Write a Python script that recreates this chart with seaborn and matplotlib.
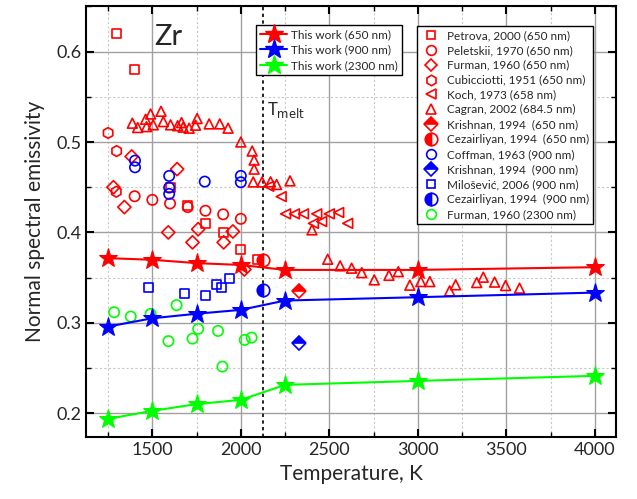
import numpy as np
import pandas as pd
import seaborn as sns
import matplotlib
matplotlib.use("Agg")
import matplotlib.pyplot as plt
from matplotlib.lines import Line2D
from matplotlib.ticker import MultipleLocator

# This work (stars + lines)
work_T = [1250, 1500, 1750, 2000, 2250, 3000, 4000]
work_650 = [0.3715, 0.3697, 0.366, 0.364, 0.3585, 0.3585, 0.3615]
work_900 = [0.2958, 0.305, 0.310, 0.3143, 0.3246, 0.3283, 0.3334]
work_2300 = [0.1937, 0.2026, 0.210, 0.2147, 0.2313, 0.2357, 0.2413]

# Literature data
petrova_T = [1300, 1400, 1600, 1700, 1800, 1900, 2000, 2095]
petrova_e = [0.620, 0.580, 0.450, 0.430, 0.410, 0.400, 0.381, 0.370]

peletskii_T = [1400, 1500, 1600, 1700, 1800, 1900, 2000]
peletskii_e = [0.440, 0.436, 0.432, 0.428, 0.424, 0.420, 0.415]

furman650_T = [1280, 1342, 1383, 1590, 1640, 1727, 1759, 1903, 1955, 2020]
furman650_e = [0.450, 0.428, 0.484, 0.400, 0.470, 0.389, 0.4035, 0.389, 0.401, 0.359]

cubicciotti_T = [1250, 1298, 1296]
cubicciotti_e = [0.510, 0.490, 0.445]

koch_T = [2158, 2228, 2253, 2303, 2354, 2410, 2429, 2457, 2500, 2553, 2604]
koch_e = [0.451, 0.4396, 0.4205, 0.4205, 0.4205, 0.410, 0.4205, 0.412, 0.4205, 0.422, 0.410]

cagran_T = [1387, 1417, 1462, 1467, 1490, 1505, 1549, 1562, 1603, 1643, 1665, 1674,
            1708, 1744, 1753, 1821, 1881, 1928, 2000, 2064, 2075, 2075, 2070, 2120,
            2168, 2202, 2278, 2402, 2491, 2561, 2626, 2683, 2754, 2837, 2890, 2955,
            3017, 3068, 3180, 3214, 3333, 3370, 3434, 3496, 3575]
cagran_e = [0.5208, 0.516, 0.5252, 0.517, 0.531, 0.519, 0.534, 0.5226, 0.519, 0.518,
            0.5215, 0.5164, 0.5153, 0.5186, 0.526, 0.520, 0.520, 0.5153, 0.500, 0.490,
            0.480, 0.470, 0.4558, 0.4558, 0.456, 0.453, 0.457, 0.4028, 0.3703, 0.363,
            0.3604, 0.3555, 0.3475, 0.3525, 0.3566, 0.3416, 0.3456, 0.3456, 0.3353,
            0.342, 0.3445, 0.3504, 0.345, 0.3412, 0.3383]

krishnan650_T = [2330]
krishnan650_e = [0.335]
cez650_T = [2125]
cez650_e = [0.370]

coffman_T = [1402, 1402, 1595, 1595, 1595, 1796, 2000, 2000]
coffman_e = [0.4794, 0.472, 0.4625, 0.4496, 0.4426, 0.4562, 0.4625, 0.4555]

krishnan900_T = [2330]
krishnan900_e = [0.278]

milosevic_T = [1477, 1684, 1798, 1862, 1890, 1937]
milosevic_e = [0.3394, 0.332, 0.330, 0.3427, 0.339, 0.349]

cez900_T = [2125]
cez900_e = [0.336]

furman2300_T = [1284, 1378, 1490, 1637, 1591, 1727, 1759, 1871, 1896, 2022, 2061]
furman2300_e = [0.3117, 0.3069, 0.3098, 0.3195, 0.2797, 0.2825, 0.2933, 0.2910, 0.2515, 0.2811, 0.2836]

T_melt = 2128

RED, BLUE, GREEN = "#ff0000", "#0000ff", "#00ff00"

sns.set_style("ticks")
plt.rcParams["font.family"] = ["Lato", "DejaVu Sans"]

fig = plt.figure(figsize=(6.37, 4.99), dpi=100)
ax = fig.add_axes([0.135, 0.124, 0.832, 0.864])

# grid
ax.xaxis.set_major_locator(MultipleLocator(500))
ax.xaxis.set_minor_locator(MultipleLocator(250))
ax.yaxis.set_major_locator(MultipleLocator(0.1))
ax.yaxis.set_minor_locator(MultipleLocator(0.05))
ax.grid(which="major", color="#a0a0a0", lw=1.0, ls="-", zorder=0)
ax.grid(which="minor", color="#c8c8c8", lw=0.8, ls=(0, (2, 2)), zorder=0)
ax.set_axisbelow(True)

# open-marker literature sets
open_sets = [
    ("Petrova, 2000 (650 nm)", petrova_T, petrova_e, "s", RED, 42),
    ("Peletskii, 1970 (650 nm)", peletskii_T, peletskii_e, "o", RED, 55),
    ("Furman, 1960 (650 nm)", furman650_T, furman650_e, "D", RED, 45),
    ("Cubicciotti, 1951 (650 nm)", cubicciotti_T, cubicciotti_e, "h", RED, 60),
    ("Koch, 1973 (658 nm)", koch_T, koch_e, "<", RED, 50),
    ("Cagran, 2002 (684.5 nm)", cagran_T, cagran_e, "^", RED, 50),
    ("Coffman, 1963 (900 nm)", coffman_T, coffman_e, "o", BLUE, 55),
    ("Milošević, 2006 (900 nm)", milosevic_T, milosevic_e, "s", BLUE, 42),
    ("Furman, 1960 (2300 nm)", furman2300_T, furman2300_e, "o", GREEN, 55),
]
for label, T, e, m, c, s in open_sets:
    df = pd.DataFrame({"T": T, "e": e})
    sns.scatterplot(data=df, x="T", y="e", marker=m, s=s, facecolors="none",
                    edgecolor=c, linewidth=1.2, ax=ax, zorder=3)

# half-filled markers
half_sets = [
    (krishnan650_T, krishnan650_e, "D", RED, "top", 7),
    (cez650_T, cez650_e, "o", RED, "left", 9),
    (krishnan900_T, krishnan900_e, "D", BLUE, "top", 7),
    (cez900_T, cez900_e, "o", BLUE, "left", 9),
]
for T, e, m, c, fs, ms in half_sets:
    ax.plot(T, e, ls="none", marker=m, color=c, mfc=c, mec=c, mfcalt="white",
            fillstyle=fs, ms=ms, mew=1.2, zorder=4)

# this work
for vals, c in [(work_650, RED), (work_900, BLUE), (work_2300, GREEN)]:
    df = pd.DataFrame({"T": work_T, "e": vals})
    sns.lineplot(data=df, x="T", y="e", color=c, lw=1.5, marker="*", ms=14,
                 mec=c, mfc=c, ax=ax, zorder=5)

ax.axvline(T_melt, color="black", ls=(0, (2, 2)), lw=1.2, zorder=2)
ax.text(T_melt + 22, 0.535, r"T$_{\mathrm{melt}}$", fontsize=12, va="center")
ax.text(1590, 0.616, "Zr", fontsize=21, ha="center", va="center")

ax.set_xlim(1125, 4120)
ax.set_ylim(0.1735, 0.6505)
ax.set_xticks([1500, 2000, 2500, 3000, 3500, 4000])
ax.yaxis.set_major_formatter(matplotlib.ticker.FormatStrFormatter("%.1f"))
ax.set_xlabel("Temperature, K", fontsize=15, labelpad=4)
ax.set_ylabel("Normal spectral emissivity", fontsize=15, labelpad=8)
ax.tick_params(which="both", direction="in", top=True, right=True, labelsize=13,
               color="black")
ax.tick_params(which="major", length=6, width=1.5)
ax.tick_params(which="minor", length=3.5, width=1.0)
for sp in ax.spines.values():
    sp.set_linewidth(1.5)
    sp.set_color("black")

# legends
h_work = [Line2D([], [], color=c, lw=1.5, marker="*", ms=14, label=l)
          for c, l in [(RED, "This work (650 nm)"), (BLUE, "This work (900 nm)"),
                       (GREEN, "This work (2300 nm)")]]
leg1 = ax.legend(handles=h_work, loc="upper left", bbox_to_anchor=(0.321, 0.956),
                 borderaxespad=0, fontsize=8.5, frameon=True, fancybox=False,
                 edgecolor="black", framealpha=1, handlelength=2.3,
                 handletextpad=0.3, labelspacing=0.38, borderpad=0.35)
leg1.get_frame().set_linewidth(1.0)
ax.add_artist(leg1)

def mk(m, c, ms, label, fs="full"):
    if fs == "full":
        return Line2D([], [], ls="none", marker=m, mfc="none", mec=c, ms=ms,
                      mew=1.2, label=label)
    return Line2D([], [], ls="none", marker=m, color=c, mfc=c, mec=c,
                  mfcalt="white", fillstyle=fs, ms=ms, mew=1.2, label=label)

h_lit = [
    mk("s", RED, 6, "Petrova, 2000 (650 nm)"),
    mk("o", RED, 7, "Peletskii, 1970 (650 nm)"),
    mk("D", RED, 6.5, "Furman, 1960 (650 nm)"),
    mk("h", RED, 7.5, "Cubicciotti, 1951 (650 nm)"),
    mk("<", RED, 7, "Koch, 1973 (658 nm)"),
    mk("^", RED, 7, "Cagran, 2002 (684.5 nm)"),
    mk("D", RED, 7, "Krishnan, 1994  (650 nm)", "top"),
    mk("o", RED, 9, "Cezairliyan, 1994  (650 nm)", "left"),
    mk("o", BLUE, 7, "Coffman, 1963 (900 nm)"),
    mk("D", BLUE, 7, "Krishnan, 1994  (900 nm)", "top"),
    mk("s", BLUE, 6, "Milošević, 2006 (900 nm)"),
    mk("o", BLUE, 9, "Cezairliyan, 1994  (900 nm)", "left"),
    mk("o", GREEN, 7, "Furman, 1960 (2300 nm)"),
]
leg2 = ax.legend(handles=h_lit, loc="upper left", bbox_to_anchor=(0.6245, 0.954),
                 borderaxespad=0, fontsize=8.5, frameon=True, fancybox=False,
                 edgecolor="black", framealpha=1, handlelength=1.6,
                 handletextpad=0.6, labelspacing=0.33, borderpad=0.35)
leg2.get_frame().set_linewidth(1.0)

fig.savefig("out.png", dpi=100)
